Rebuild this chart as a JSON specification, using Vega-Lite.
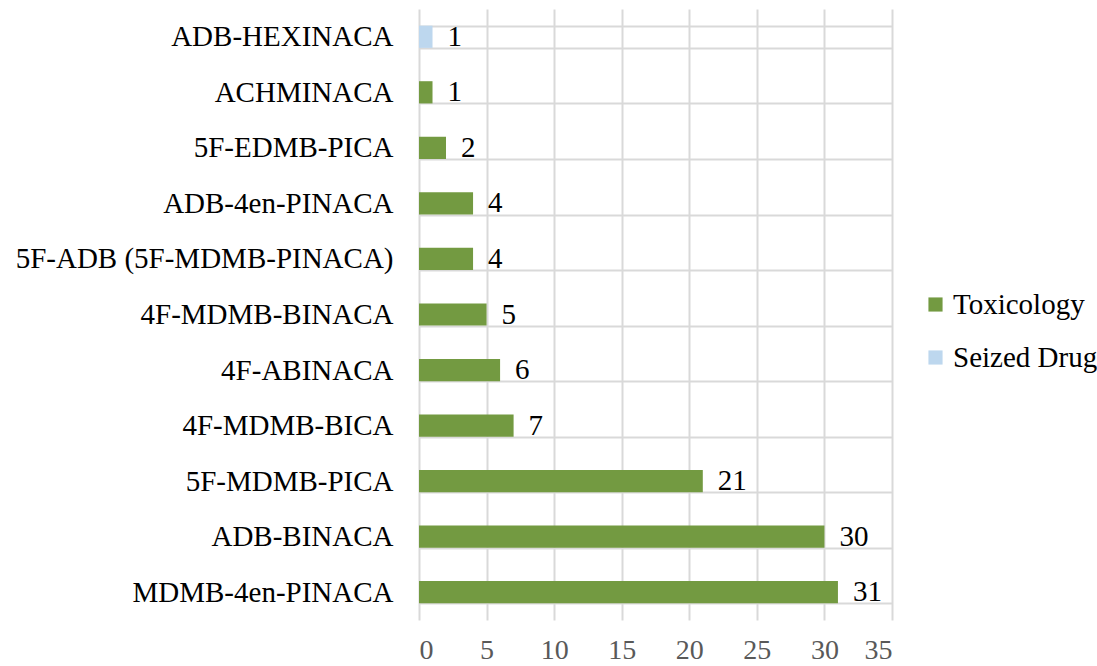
{
  "$schema": "https://vega.github.io/schema/vega-lite/v6.json",
  "width": 473,
  "height": 611,
  "autosize": {"type": "none"},
  "padding": {"left": 419, "top": 9, "right": 205, "bottom": 46},
  "config": {"font": "Liberation Serif", "view": {"stroke": null}},
  "data": {"values": [
    {"drug": "ADB-HEXINACA", "count": 1, "type": "Seized Drug"},
    {"drug": "ACHMINACA", "count": 1, "type": "Toxicology"},
    {"drug": "5F-EDMB-PICA", "count": 2, "type": "Toxicology"},
    {"drug": "ADB-4en-PINACA", "count": 4, "type": "Toxicology"},
    {"drug": "5F-ADB (5F-MDMB-PINACA)", "count": 4, "type": "Toxicology"},
    {"drug": "4F-MDMB-BINACA", "count": 5, "type": "Toxicology"},
    {"drug": "4F-ABINACA", "count": 6, "type": "Toxicology"},
    {"drug": "4F-MDMB-BICA", "count": 7, "type": "Toxicology"},
    {"drug": "5F-MDMB-PICA", "count": 21, "type": "Toxicology"},
    {"drug": "ADB-BINACA", "count": 30, "type": "Toxicology"},
    {"drug": "MDMB-4en-PINACA", "count": 31, "type": "Toxicology"}
  ]},
  "encoding": {
    "y": {
      "field": "drug", "type": "nominal", "sort": null,
      "scale": {"paddingInner": 0.6, "paddingOuter": 0.3},
      "axis": {"title": null, "domain": false, "ticks": false, "grid": true, "gridColor": "#d9d9d9", "gridWidth": 2, "tickBand": "extent", "labelFontSize": 29, "labelColor": "#000000", "labelPadding": 26, "labelLimit": 420}
    },
    "x": {
      "field": "count", "type": "quantitative",
      "scale": {"domain": [0, 35], "nice": false},
      "axis": {"title": null, "values": [0, 5, 10, 15, 20, 25, 30, 35], "domain": false, "ticks": false, "grid": true, "gridColor": "#d9d9d9", "gridWidth": 2, "labelFontSize": 28, "labelColor": "#595959", "labelPadding": 16}
    }
  },
  "layer": [
    {
      "mark": {"type": "bar"},
      "encoding": {
        "color": {
          "field": "type", "type": "nominal",
          "scale": {"domain": ["Toxicology", "Seized Drug"], "range": ["#739a41", "#bdd7ee"]},
          "legend": {"title": null, "orient": "none", "legendX": 502, "legendY": 281, "symbolType": "square", "symbolSize": 200, "symbolStrokeWidth": 0, "labelFontSize": 29, "labelColor": "#000000", "rowPadding": 23, "labelOffset": 3}
        }
      }
    },
    {
      "mark": {"type": "text", "align": "left", "baseline": "middle", "dx": 15, "fontSize": 29, "color": "#000000"},
      "encoding": {"text": {"field": "count", "type": "quantitative"}}
    }
  ]
}
